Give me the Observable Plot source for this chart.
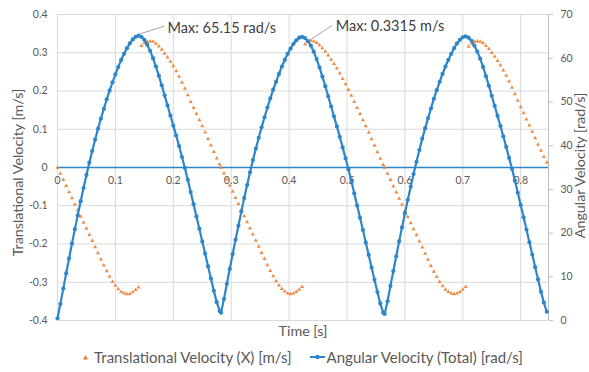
<!DOCTYPE html>
<html>
<head>
<meta charset="utf-8">
<script src="https://cdn.jsdelivr.net/npm/d3@7"></script>
<script src="https://cdn.jsdelivr.net/npm/@observablehq/plot@0.6"></script>
<style>
  html, body { margin: 0; padding: 0; background: #fff; }
  #chart svg { display: block; }
  #legend { display: flex; justify-content: center; align-items: center; height: 30px;
    font-family: Lato, "Liberation Sans", sans-serif; font-size: 15px; color: #595959; padding-left: 14px; }
  #legend .item { display: flex; align-items: center; }
  #legend .item + .item { margin-left: 18px; }
</style>
</head>
<body>
<div id="chart"></div>
<div id="legend"></div>
<script>
// ---- Data ----
const seriesNames = ["Translational Velocity (X) [m/s]", "Angular Velocity (Total) [rad/s]"];
const xTitle = "Time [s]";
const leftTitle = "Translational Velocity [m/s]";
const rightTitle = "Angular Velocity [rad/s]";

const xTicks = [0, 0.1, 0.2, 0.3, 0.4, 0.5, 0.6, 0.7, 0.8];
const xLabels = ["0", "0.1", "0.2", "0.3", "0.4", "0.5", "0.6", "0.7", "0.8"];
const yTicks = [-0.4, -0.3, -0.2, -0.1, 0, 0.1, 0.2, 0.3, 0.4];
const yLabels = ["-0.4", "-0.3", "-0.2", "-0.1", "0", "0.1", "0.2", "0.3", "0.4"];
const rightTicks = [0, 10, 20, 30, 40, 50, 60, 70];
const rightLabels = ["0", "10", "20", "30", "40", "50", "60", "70"];

// time stamps [s], three strokes
const time1 = [0,0.005,0.01,0.015,0.02,0.025,0.03,0.035,0.04,0.045,0.05,0.055,0.06,0.065,0.07,0.075,0.08,0.085,0.09,0.095,0.1,0.105,0.11,0.115,0.12,0.125,0.13,0.135,0.14,0.145,0.15,0.155,0.16,0.165,0.17,0.175,0.18,0.185,0.19,0.195,0.2,0.205,0.21,0.215,0.22,0.225,0.23,0.235,0.24,0.245,0.25,0.255,0.26,0.265,0.27,0.275,0.28];
const time2 = [0.2825,0.2875,0.2925,0.2975,0.3025,0.3075,0.3125,0.3175,0.3225,0.3275,0.3325,0.3375,0.3425,0.3475,0.3525,0.3575,0.3625,0.3675,0.3725,0.3775,0.3825,0.3875,0.3925,0.3975,0.4025,0.4075,0.4125,0.4175,0.4225,0.4275,0.4325,0.4375,0.4425,0.4475,0.4525,0.4575,0.4625,0.4675,0.4725,0.4775,0.4825,0.4875,0.4925,0.4975,0.5025,0.5075,0.5125,0.5175,0.5225,0.5275,0.5325,0.5375,0.5425,0.5475,0.5525,0.5575,0.5625];
const time3 = [0.565,0.57,0.575,0.58,0.585,0.59,0.595,0.6,0.605,0.61,0.615,0.62,0.625,0.63,0.635,0.64,0.645,0.65,0.655,0.66,0.665,0.67,0.675,0.68,0.685,0.69,0.695,0.7,0.705,0.71,0.715,0.72,0.725,0.73,0.735,0.74,0.745,0.75,0.755,0.76,0.765,0.77,0.775,0.78,0.785,0.79,0.795,0.8,0.805,0.81,0.815,0.82,0.825,0.83,0.835,0.84,0.845];

// translational velocity X [m/s]
const transVel1 = [0.000,-0.016,-0.032,-0.048,-0.064,-0.080,-0.096,-0.112,-0.128,-0.144,-0.160,-0.176,-0.192,-0.208,-0.224,-0.240,-0.256,-0.271,-0.285,-0.298,-0.309,-0.318,-0.325,-0.329,-0.331,-0.330,-0.326,-0.320,-0.313,0.318,0.325,0.329,0.330,0.329,0.324,0.317,0.308,0.298,0.288,0.277,0.265,0.252,0.238,0.222,0.206,0.189,0.172,0.156,0.140,0.124,0.108,0.092,0.075,0.058,0.041,0.024,0.008];
const transVel2 = [0.000,-0.015,-0.031,-0.047,-0.063,-0.079,-0.095,-0.111,-0.127,-0.143,-0.159,-0.175,-0.191,-0.207,-0.223,-0.239,-0.255,-0.270,-0.284,-0.297,-0.308,-0.317,-0.324,-0.329,-0.331,-0.329,-0.325,-0.319,-0.312,0.322,0.329,0.3315,0.330,0.326,0.320,0.312,0.303,0.293,0.282,0.271,0.259,0.246,0.232,0.218,0.203,0.188,0.172,0.156,0.140,0.124,0.108,0.091,0.074,0.057,0.040,0.023,0.007];
const transVel3 = [0.000,-0.016,-0.032,-0.049,-0.065,-0.081,-0.097,-0.113,-0.129,-0.145,-0.161,-0.177,-0.193,-0.209,-0.225,-0.241,-0.257,-0.272,-0.286,-0.299,-0.310,-0.319,-0.325,-0.329,-0.331,-0.329,-0.325,-0.319,-0.312,0.316,0.324,0.329,0.330,0.329,0.325,0.318,0.310,0.300,0.290,0.279,0.267,0.254,0.240,0.225,0.209,0.192,0.175,0.158,0.142,0.126,0.110,0.094,0.077,0.060,0.044,0.028,0.013];

// angular velocity (total) [rad/s]
const angVel1 = [0.5,3.8,7.3,10.8,14.2,17.6,20.9,24.1,27.3,30.3,33.3,36.1,38.8,41.4,43.9,46.2,48.4,50.6,52.6,54.5,56.3,58.0,59.6,61.0,62.3,63.4,64.3,64.9,65.15,64.9,64.2,63.1,61.7,60.0,58.1,56.0,53.8,51.5,49.2,46.9,44.6,42.3,39.9,37.4,34.9,32.2,29.4,26.6,23.8,21.0,18.1,15.3,12.4,9.6,6.8,4.2,2.2];
const angVel2 = [1.8,4.9,8.4,11.8,15.2,18.5,21.7,24.9,28.0,31.0,33.9,36.7,39.3,41.8,44.2,46.5,48.7,50.8,52.8,54.6,56.4,58.1,59.6,61.0,62.2,63.3,64.1,64.7,64.9,64.6,63.9,62.9,61.5,59.8,57.9,55.8,53.6,51.3,49.0,46.7,44.4,42.0,39.6,37.1,34.6,31.9,29.1,26.3,23.5,20.7,17.8,15.0,12.1,9.3,6.5,3.9,1.8];
const angVel3 = [1.5,4.4,7.9,11.3,14.7,18.1,21.3,24.5,27.6,30.6,33.5,36.3,39.0,41.6,44.0,46.3,48.5,50.7,52.7,54.6,56.4,58.1,59.6,61.0,62.3,63.4,64.2,64.8,65.0,64.7,64.0,62.9,61.5,59.9,58.0,55.9,53.7,51.4,49.1,46.8,44.5,42.1,39.7,37.2,34.7,32.0,29.2,26.4,23.6,20.8,17.9,15.1,12.2,9.4,6.6,4.1,2.0];

// annotated maxima
const maxLabels = ["Max: 65.15 rad/s", "Max: 0.3315 m/s"];
const maxAngT = 0.14, maxAngV = 65.15;
const maxTransT = 0.4375, maxTransV = 0.3315;

// ---- Build ----
const ORANGE = "#ED7D31";
const BLUE = "#2E86CA";
const GRID = "#d9d9d9";
const TEXT = "#595959";
const FONT = "Lato, 'Liberation Sans', sans-serif";

const xMax = 0.848;
const yMin = -0.4, yMax = 0.4, rMax = 70;
const toLeft = r => yMin + r * (yMax - yMin) / rMax;

const time = [...time1, ...time2, ...time3];
const transVel = [...transVel1, ...transVel2, ...transVel3];
const angVel = [...angVel1, ...angVel2, ...angVel3];

const transData = time.map((t, i) => ({t, v: transVel[i]}));
const angData = time.map((t, i) => ({t, v: toLeft(angVel[i])}));
const xTickData = xTicks.map((t, i) => ({t, v: 0, label: xLabels[i]}));

const yLabelMap = new Map(yTicks.map((d, i) => [d, yLabels[i]]));
const rightPos = rightTicks.map(toLeft);
const rightLabelMap = new Map(rightPos.map((d, i) => [d, rightLabels[i]]));

const chart = Plot.plot({
  width: 589,
  height: 342,
  marginLeft: 57,
  marginRight: 41,
  marginTop: 14,
  marginBottom: 22,
  style: {fontFamily: FONT, color: TEXT, background: "white"},
  x: {domain: [0, xMax], axis: null},
  y: {domain: [yMin, yMax], axis: null},
  marks: [
    Plot.gridX(xTicks, {stroke: GRID, strokeOpacity: 1}),
    Plot.gridY(yTicks, {stroke: GRID, strokeOpacity: 1}),
    Plot.ruleX([xMax], {stroke: "#bfbfbf"}),
    Plot.axisY(yTicks, {anchor: "left", label: null, tickSize: 0, tickPadding: 10, fontSize: 10.5,
      tickFormat: d => yLabelMap.get(d)}),
    Plot.axisY(rightPos, {anchor: "right", label: null, tickSize: 4, tickPadding: 8, fontSize: 10.5,
      stroke: "#bfbfbf", tickFormat: d => rightLabelMap.get(d)}),
    Plot.ruleY([0], {stroke: BLUE, strokeWidth: 1.5}),
    Plot.text(xTickData, {x: "t", y: "v", text: "label", dy: 13, fontSize: 10.5, fill: TEXT}),
    Plot.dot(transData, {x: "t", y: "v", symbol: "triangle", r: 1.5, fill: ORANGE, stroke: null, fillOpacity: 0.9}),
    Plot.line(angData, {x: "t", y: "v", stroke: BLUE, strokeWidth: 2.2}),
    Plot.dot(angData, {x: "t", y: "v", r: 2.1, fill: BLUE, stroke: null}),
    Plot.text([leftTitle], {frameAnchor: "left", dx: -39, dy: 5, rotate: -90, textAnchor: "middle", lineAnchor: "middle", fontSize: 14.3, fill: TEXT}),
    Plot.text([rightTitle], {frameAnchor: "right", dx: 32, dy: -2, rotate: -90, textAnchor: "middle", lineAnchor: "middle", fontSize: 14.3, fill: TEXT}),
    Plot.text([xTitle], {frameAnchor: "bottom", dy: 11, lineAnchor: "middle", textAnchor: "middle", fontSize: 14.3, fill: TEXT}),
    Plot.text([{t: maxAngT, v: toLeft(maxAngV), label: maxLabels[0]}],
      {x: "t", y: "v", text: "label", dx: 29, dy: -7, textAnchor: "start", fontSize: 14.5, fill: "#404040"}),
    Plot.text([{t: maxTransT, v: maxTransV, label: maxLabels[1]}],
      {x: "t", y: "v", text: "label", dx: 25, dy: -14, textAnchor: "start", fontSize: 14.5, fill: "#404040"})
  ]
});

// leader lines from the maxima, positioned with the chart's own scales
const sx = chart.scale("x"), sy = chart.scale("y");
const leaders = [
  {x: sx.apply(maxAngT), y: sy.apply(toLeft(maxAngV)), ox: 26, oy: -9},
  {x: sx.apply(maxTransT), y: sy.apply(maxTransV), ox: 22, oy: -15}
];
d3.select(chart).append("g").selectAll("line").data(leaders).join("line")
  .attr("x1", d => d.x + 1).attr("y1", d => d.y - 1)
  .attr("x2", d => d.x + d.ox).attr("y2", d => d.y + d.oy)
  .attr("stroke", "#9aa7b4").attr("stroke-width", 1);

document.getElementById("chart").appendChild(chart);

// legend
const legend = d3.select("#legend");
const item1 = legend.append("div").attr("class", "item");
item1.append("svg").attr("width", 12).attr("height", 10)
  .append("path").attr("d", "M3,7.5L5.5,3L8,7.5Z").attr("fill", ORANGE);
item1.append("span").style("margin-left", "2px").text(seriesNames[0]);
const item2 = legend.append("div").attr("class", "item");
const s2 = item2.append("svg").attr("width", 16).attr("height", 10);
s2.append("line").attr("x1", 0).attr("x2", 15).attr("y1", 5).attr("y2", 5).attr("stroke", BLUE).attr("stroke-width", 2);
s2.append("circle").attr("cx", 7.5).attr("cy", 5).attr("r", 2.2).attr("fill", BLUE);
item2.append("span").style("margin-left", "1px").text(seriesNames[1]);
</script>
</body>
</html>
